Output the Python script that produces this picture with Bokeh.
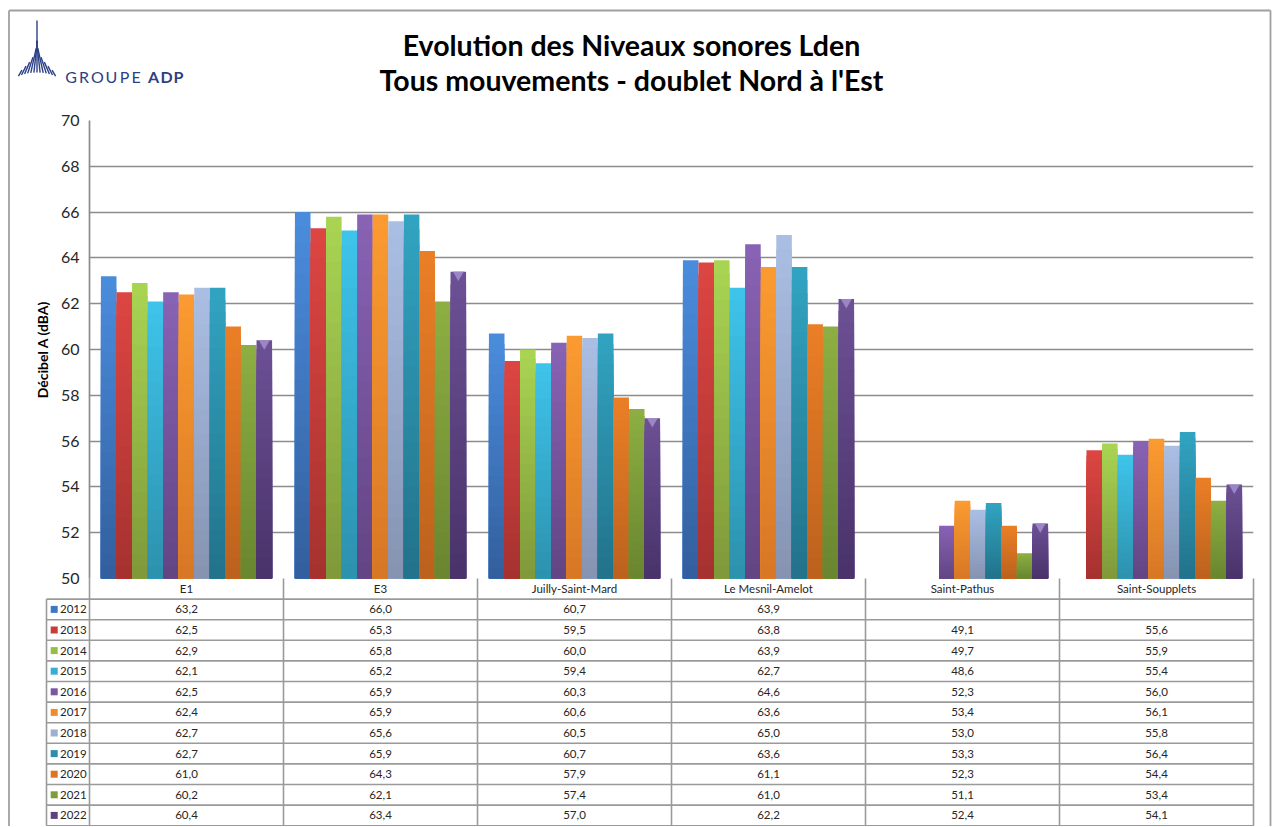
import math
from bokeh.plotting import figure
from bokeh.models import Range1d, FactorRange, FixedTicker, ColumnDataSource
from bokeh.transform import dodge
from bokeh.core.properties import value
from bokeh.embed import file_html
from bokeh.resources import INLINE

# ---------------- data ----------------
categories = ["E1", "E3", "Juilly-Saint-Mard", "Le Mesnil-Amelot", "Saint-Pathus", "Saint-Soupplets"]
years = ["2012", "2013", "2014", "2015", "2016", "2017", "2018", "2019", "2020", "2021", "2022"]
v2012 = [63.2, 66.0, 60.7, 63.9, None, None]
v2013 = [62.5, 65.3, 59.5, 63.8, 49.1, 55.6]
v2014 = [62.9, 65.8, 60.0, 63.9, 49.7, 55.9]
v2015 = [62.1, 65.2, 59.4, 62.7, 48.6, 55.4]
v2016 = [62.5, 65.9, 60.3, 64.6, 52.3, 56.0]
v2017 = [62.4, 65.9, 60.6, 63.6, 53.4, 56.1]
v2018 = [62.7, 65.6, 60.5, 65.0, 53.0, 55.8]
v2019 = [62.7, 65.9, 60.7, 63.6, 53.3, 56.4]
v2020 = [61.0, 64.3, 57.9, 61.1, 52.3, 54.4]
v2021 = [60.2, 62.1, 57.4, 61.0, 51.1, 53.4]
v2022 = [60.4, 63.4, 57.0, 62.2, 52.4, 54.1]
series = [v2012, v2013, v2014, v2015, v2016, v2017, v2018, v2019, v2020, v2021, v2022]
top_colors = ["#4a8cdc", "#dc4542", "#a8d452", "#3ec3ea", "#8862b4", "#fa9a30",
              "#aabee4", "#31a3c0", "#ea7e26", "#8cae42", "#6c5094"]
bottom_colors = ["#335f9e", "#a63230", "#80993a", "#2d92ae", "#634584", "#d87826",
                 "#8694b2", "#22738b", "#bc621e", "#6a8630", "#49336a"]
legend_colors = ["#3f76c6", "#c83c3a", "#98bc48", "#38aed4", "#7a58a0", "#f08c2c",
                 "#9bb0d2", "#2b8eaa", "#dc7422", "#7e9c3a", "#5c4280"]
y_ticks = [50, 52, 54, 56, 58, 60, 62, 64, 66, 68, 70]
title_lines = ["Evolution des Niveaux sonores Lden", "Tous mouvements - doublet Nord à l'Est"]
y_label = "Décibel A (dBA)"
logo_word1 = "GROUPE"
logo_word2 = "ADP"

# ---------------- layout constants ----------------
W, H = 1274, 826
MB_L, MB_R, MB_T, MB_B = 89, 21, 120, 248
frame_left = MB_L
frame_bottom = H - MB_B
cat_px = (W - MB_L - MB_R) / len(categories)
db_px = (H - MB_T - MB_B) / (y_ticks[-1] - y_ticks[0])
ROW = 20.6
FONT = value("Lato")
YMIN = y_ticks[0]


def X(px):
    return (px - frame_left) / cat_px


def Y(py):
    return YMIN + (frame_bottom - py) / db_px


def mix(c1, c2, t):
    a = [int(c1[k:k + 2], 16) for k in (1, 3, 5)]
    b = [int(c2[k:k + 2], 16) for k in (1, 3, 5)]
    return "#" + "".join(f"{round(a[m] + (b[m] - a[m]) * t):02x}" for m in range(3))


p = figure(width=W, height=H, x_range=FactorRange(*categories),
           y_range=Range1d(YMIN, y_ticks[-1]),
           output_backend="svg", toolbar_location=None, title=None,
           min_border_left=MB_L, min_border_right=MB_R, min_border_top=MB_T,
           min_border_bottom=MB_B, x_axis_location=None)
p.outline_line_color = None
p.background_fill_color = "white"
p.border_fill_color = "white"
p.xgrid.visible = False
p.ygrid.ticker = FixedTicker(ticks=y_ticks)
p.ygrid.grid_line_color = "#8c8c8c"
p.ygrid.grid_line_width = 1.7

ax = p.yaxis[0]
ax.ticker = FixedTicker(ticks=y_ticks)
ax.major_tick_in = 0
ax.major_tick_out = 0
ax.minor_tick_in = 0
ax.minor_tick_out = 0
ax.axis_line_color = "#8c8c8c"
ax.axis_line_width = 1.7
ax.major_label_text_font = "Lato"
ax.major_label_text_font_size = "16px"
ax.major_label_text_color = "#262626"
ax.major_label_standoff = 10
ax.axis_label = y_label
ax.axis_label_text_font = "Lato"
ax.axis_label_text_font_style = "bold"
ax.axis_label_text_font_size = "14px"
ax.axis_label_text_color = "#000000"
ax.axis_label_standoff = 7

# ---------------- bars (vertical gradient by layering) ----------------
n = len(years)
bw = 0.0802
NSLICE = 24
for i, vals in enumerate(series):
    shown = [float("nan") if (v is None or v < YMIN) else v for v in vals]
    off = (i - (n - 1) / 2) * bw
    for s in range(NSLICE):
        frac = 1 - s / NSLICE
        src = ColumnDataSource(dict(cat=categories,
                                    v=[YMIN + (v - YMIN) * frac for v in shown]))
        p.vbar(x=dodge("cat", off, range=p.x_range), top="v", bottom=YMIN,
               width=bw, source=src, line_color=None,
               fill_color=mix(top_colors[i], bottom_colors[i], s / (NSLICE - 1)))

# light cap on the 2022 bars (as in the reference's bevelled last series)
last = [float("nan") if (v is None or v < YMIN) else v - 3.0 / db_px for v in series[-1]]
p.scatter(x=dodge("cat", (n - 1 - (n - 1) / 2) * bw, range=p.x_range), y="v",
          source=ColumnDataSource(dict(cat=categories, v=last)),
          marker="inverted_triangle", size=11, fill_color="#a08ccc", fill_alpha=0.9,
          line_color=None)

# ---------------- data table ----------------
line_col = "#9a9a9a"
ncat = len(categories)
rows_total = len(years) + 1
bottom_py = frame_bottom + rows_total * ROW
hx, hy = [], []
for k in range(1, rows_total + 1):
    py = frame_bottom + k * ROW
    hx.append([X(46), ncat])
    hy.append([Y(py), Y(py)])
hx.append([X(46), X(46)])
hy.append([Y(frame_bottom + ROW), Y(bottom_py)])
for j in range(ncat + 1):
    hx.append([j, j])
    hy.append([YMIN, Y(bottom_py)])
p.multi_line(xs=hx, ys=hy, line_color=line_col, line_width=1.6, level="overlay")

p.text(x=[j + 0.5 for j in range(ncat)], y=[Y(frame_bottom + 0.5 * ROW)] * ncat,
       text=categories, text_font=FONT, text_font_size="11.5px", text_color="#262626",
       text_align="center", text_baseline="middle", level="overlay")
tx, ty, tt = [], [], []
for i, vals in enumerate(series):
    py = frame_bottom + (i + 1.5) * ROW
    for j, v in enumerate(vals):
        if v is None:
            continue
        tx.append(j + 0.5)
        ty.append(Y(py))
        tt.append(f"{v:.1f}".replace(".", ","))
p.text(x=tx, y=ty, text=tt, text_font=FONT, text_font_size="11.5px", text_color="#262626",
       text_align="center", text_baseline="middle", level="overlay")
ly = [Y(frame_bottom + (i + 1.5) * ROW) for i in range(n)]
p.rect(x=[X(53.7)] * n, y=ly, width=7, height=7, width_units="screen",
       height_units="screen", fill_color=legend_colors, line_color=None, level="overlay")
p.text(x=[X(59.5)] * n, y=ly, text=years, text_font=FONT, text_font_size="11.5px",
       text_color="#262626", text_align="left", text_baseline="middle", level="overlay")

# ---------------- title ----------------
p.text(x=[X(631), X(631)], y=[Y(44), Y(79)], text=title_lines, text_font=FONT,
       text_font_style="bold", text_font_size="28.5px", text_color="#000000",
       text_align="center", text_baseline="middle", level="overlay")

# ---------------- logo ----------------
logo_col = "#2b3f86"
lens = [7, 10, 13, 17, 25, 32, 52, 32, 25, 17, 13, 10, 7]
lx, lyy = [], []
for idx, L in enumerate(lens):
    i = idx - 6
    bx, by = 36.5 + i * 3.1, 72 + 0.1 * i * i
    cx, cy = 36.5, 44.0
    dxv, dyv = cx - bx, cy - by
    d = math.hypot(dxv, dyv)
    lx.append([X(bx), X(bx + dxv / d * L)])
    lyy.append([Y(by), Y(by + dyv / d * L)])
p.multi_line(xs=lx, ys=lyy, line_color=logo_col, line_width=1.4, level="overlay")
letters = list(logo_word1) + list(logo_word2)
letter_px = [70.5, 83.5, 97, 111, 124, 135.5, 153, 166, 178]
letter_style = ["normal"] * len(logo_word1) + ["bold"] * len(logo_word2)
p.text(x=[X(v) for v in letter_px], y=[Y(76)] * len(letters), text=letters,
       text_font=FONT, text_font_size="16px", text_font_style=letter_style,
       text_color=logo_col, text_align="center", text_baseline="middle", level="overlay")

# ---------------- outer border ----------------
p.multi_line(xs=[[X(8.5), X(8.5)], [X(8.5), X(1270)], [X(1270), X(1270)]],
             ys=[[Y(830), Y(10)], [Y(10), Y(10)], [Y(10), Y(830)]],
             line_color="#a0a0a0", line_width=1.8, level="overlay")

open("out.html", "w").write(file_html(p, INLINE))
